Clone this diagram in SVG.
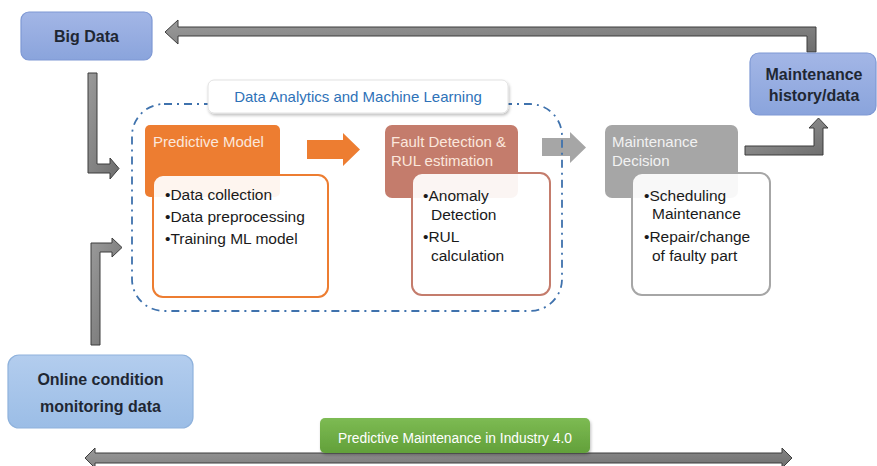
<svg xmlns="http://www.w3.org/2000/svg" width="877" height="466" viewBox="0 0 877 466">
  <defs>
    <linearGradient id="gBlue" x1="0" y1="0" x2="0" y2="1">
      <stop offset="0" stop-color="#a3b6e6"/>
      <stop offset="1" stop-color="#8aa4dc"/>
    </linearGradient>
    <linearGradient id="gLight" x1="0" y1="0" x2="0" y2="1">
      <stop offset="0" stop-color="#b3cdee"/>
      <stop offset="1" stop-color="#9bbde6"/>
    </linearGradient>
    <linearGradient id="gGreen" x1="0" y1="0" x2="0" y2="1">
      <stop offset="0" stop-color="#7dbb53"/>
      <stop offset="1" stop-color="#62a03a"/>
    </linearGradient>
    <linearGradient id="gArrow" x1="0" y1="0" x2="1" y2="1">
      <stop offset="0" stop-color="#9a9a9a"/>
      <stop offset="1" stop-color="#6e6e6e"/>
    </linearGradient>
    <filter id="shadow" x="-10%" y="-20%" width="120%" height="150%">
      <feDropShadow dx="1" dy="2" stdDeviation="1.5" flood-color="#000" flood-opacity="0.25"/>
    </filter>
  </defs>
  <style>
    text { font-family: "Liberation Sans", Arial, sans-serif; }
    .bluebox { fill: url(#gBlue); stroke: #7e98d4; stroke-width: 1.2; }
    .lightbox { fill: url(#gLight); stroke: #8fb2dc; stroke-width: 1.2; }
    .dark { fill: #1f2733; font-size: 16px; font-weight: bold; }
    .head { font-size: 15px; fill: #fbe7dc; }
    .item { font-size: 15.5px; fill: #1a1a1a; }
    .white { fill: #ffffff; fill-opacity: 0.92; stroke-width: 2; }
    .block { fill: url(#gArrow); stroke: #3d3d3d; stroke-width: 1; stroke-linejoin: miter; }
  </style>

  <rect width="877" height="466" fill="#ffffff"/>

  <!-- connectors -->
  <g id="connectors">
    <!-- maintenance history back to big data -->
    <polygon class="block" points="816,52 816,27 178,27 178,20 165,32 178,44 178,36 807,36 807,52"/>
    <!-- big data into analytics -->
    <polygon class="block" points="88,73 97,73 97,164 110,164 110,158 119,168.5 110,179 110,173 88,173"/>
    <!-- online monitoring into analytics -->
    <polygon class="block" points="91,345 91,243 112,243 112,238 122,247.5 112,257 112,252 100,252 100,345"/>
    <!-- decision to maintenance history -->
    <polygon class="block" points="745,146 814,146 814,128 809,128 818.5,118 828,128 823,128 823,155 745,155"/>
    <!-- predictive model to fault detection -->
    <polygon fill="#ed7d31" points="307,140 343,140 343,133 360,149.5 343,166 343,159 307,159"/>
    <!-- fault detection to decision -->
    <polygon fill="#a6a6a6" points="542,138 570,138 570,132 586,147.5 570,163 570,156 542,156"/>
    <!-- timeline -->
    <polygon class="block" points="85,458 95,448 95,453 782,453 782,448 792,458 782,468 782,463 95,463 95,468"/>
  </g>

  <!-- analytics frame -->
  <g id="analytics">
    <rect x="132" y="104" width="430" height="207" rx="32" fill="none" stroke="#3f72ad" stroke-width="1.8" stroke-dasharray="8,5,2,5"/>
    <rect x="208" y="80" width="300" height="33" rx="6" fill="#ffffff" stroke="#e2e2e2" stroke-width="1" filter="url(#shadow)"/>
    <text x="358" y="102" text-anchor="middle" font-size="15" fill="#2e72b8">Data Analytics and Machine Learning</text>
  </g>

  <g id="big-data">
    <rect class="bluebox" x="21" y="12" width="131" height="48" rx="8"/>
    <text class="dark" x="86.5" y="42" text-anchor="middle" font-size="16.5">Big Data</text>
  </g>

  <g id="maintenance-history">
    <rect class="bluebox" x="750" y="53" width="126" height="62" rx="9"/>
    <text class="dark" x="814" y="80" text-anchor="middle" font-size="13.8">Maintenance</text>
    <text class="dark" x="814" y="101" text-anchor="middle" font-size="13.8">history/data</text>
  </g>

  <g id="online-data">
    <rect class="lightbox" x="8" y="355" width="185" height="73" rx="11"/>
    <text class="dark" x="100.5" y="385" text-anchor="middle" font-size="16.5">Online condition</text>
    <text class="dark" x="100.5" y="412" text-anchor="middle" font-size="16.5">monitoring data</text>
  </g>

  <g id="predictive-model">
    <rect x="145" y="125" width="135" height="72" rx="5" fill="#ed7d31"/>
    <text class="head" x="153" y="147">Predictive Model</text>
    <rect class="white" x="153" y="175" width="175" height="122" rx="10" stroke="#ed7d31"/>
    <text class="item" x="165" y="200">•Data collection</text>
    <text class="item" x="165" y="222">•Data preprocessing</text>
    <text class="item" x="165" y="244">•Training ML model</text>
  </g>

  <g id="fault-detection">
    <rect x="385" y="125" width="133" height="73" rx="7" fill="#c47c6c"/>
    <text class="head" x="391" y="147">Fault Detection &amp;</text>
    <text class="head" x="391" y="166">RUL estimation</text>
    <rect class="white" x="412" y="173" width="138" height="122" rx="10" stroke="#c47c6c"/>
    <text class="item" x="423" y="201">•Anomaly</text>
    <text class="item" x="431" y="220">Detection</text>
    <text class="item" x="423" y="242">•RUL</text>
    <text class="item" x="431" y="261">calculation</text>
  </g>

  <g id="maintenance-decision">
    <rect x="605" y="125" width="133" height="73" rx="7" fill="#a6a6a6"/>
    <text class="head" x="612" y="147" style="fill:#f2f2f2">Maintenance</text>
    <text class="head" x="612" y="166" style="fill:#f2f2f2">Decision</text>
    <rect class="white" x="632" y="173" width="138" height="122" rx="10" stroke="#a6a6a6"/>
    <text class="item" x="644" y="201">•Scheduling</text>
    <text class="item" x="652" y="219">Maintenance</text>
    <text class="item" x="644" y="242">•Repair/change</text>
    <text class="item" x="652" y="261">of faulty part</text>
  </g>

  <g id="industry-label">
    <rect x="320" y="418" width="270" height="35" rx="5" fill="url(#gGreen)" filter="url(#shadow)"/>
    <text x="455" y="443" text-anchor="middle" font-size="13.8" fill="#ffffff">Predictive Maintenance in Industry 4.0</text>
  </g>
</svg>
